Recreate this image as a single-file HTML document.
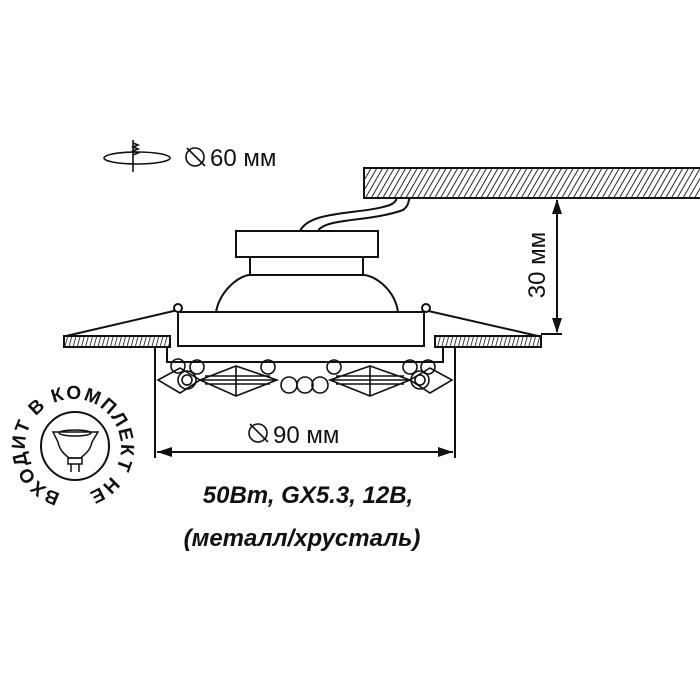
<!DOCTYPE html>
<html><head><meta charset="utf-8"><style>
html,body{margin:0;padding:0;background:#fff;width:700px;height:700px;overflow:hidden}
</style></head><body>
<svg width="700" height="700" viewBox="0 0 700 700" xmlns="http://www.w3.org/2000/svg" font-family="Liberation Sans, DejaVu Sans, sans-serif">
<defs>
<pattern id="h" width="5" height="5" patternUnits="userSpaceOnUse" patternTransform="rotate(30)">
<rect width="5" height="5" fill="#fff"/><line x1="0" y1="0" x2="0" y2="5" stroke="#111" stroke-width="1.8"/>
</pattern>
<pattern id="h2" width="4" height="4" patternUnits="userSpaceOnUse" patternTransform="rotate(15)">
<rect width="4" height="4" fill="#fff"/><line x1="0" y1="0" x2="0" y2="4" stroke="#111" stroke-width="1.6"/>
</pattern>
<path id="cp" d="M 60.6 493.4 A 48 48 0 1 1 85.4 493.4"/>
</defs>
<g stroke="#111" stroke-width="2" fill="none">
<rect x="364" y="168" width="340" height="30" fill="url(#h)"/>
<rect x="64" y="336" width="106" height="11" fill="url(#h2)"/>
<rect x="435" y="336" width="106" height="11" fill="url(#h2)"/>
<path d="M300 231 C 310 210, 360 215, 390 205 C 400 200, 394 198, 398 198"/>
<path d="M318 231 C 325 218, 370 222, 403 210 C 410 205, 408 199, 410 198"/>
<rect x="236" y="231" width="142" height="26" fill="#fff"/>
<rect x="250" y="257" width="113" height="18" fill="#fff"/>
<path d="M216 312 C 220 290, 240 275, 250 275 L 363 275 C 375 275, 395 290, 398 312" fill="#fff"/>
<rect x="178" y="312" width="246" height="34" fill="#fff"/>
<path d="M167 346 L167 362 L443 362 L443 346"/>
<path d="M178 310 L66 336 M424 310 L538 336"/>
<circle cx="178" cy="308" r="4" fill="#fff"/><circle cx="426" cy="308" r="4" fill="#fff"/>
<g stroke-width="1.6">
<path d="M158 380 L180 368 L200 380 L180 393 Z M200 380 L236 366 L277 380 L236 396 Z M200 380 L277 380 M236 366 L236 396 M205 376 L270 376 M205 384 L270 384"/>
<path d="M330 380 L370 366 L410 380 L370 396 Z M330 380 L410 380 M370 366 L370 396 M336 376 L404 376 M336 384 L404 384"/>
<path d="M410 380 L430 368 L452 380 L430 393 Z"/>
<circle cx="178" cy="366" r="7"/><circle cx="197" cy="367" r="7"/><circle cx="268" cy="367" r="7"/>
<circle cx="334" cy="367" r="7"/><circle cx="410" cy="367" r="7"/><circle cx="428" cy="367" r="7"/>
<circle cx="187" cy="380" r="9"/><circle cx="420" cy="380" r="9"/>
<circle cx="187" cy="380" r="5"/><circle cx="420" cy="380" r="5"/>
<circle cx="289" cy="385" r="8"/><circle cx="305" cy="385" r="8"/><circle cx="320" cy="385" r="8"/>
</g>
<path d="M155 346 L155 458 M455 346 L455 458 M157 452 L453 452"/>
<path d="M541 334 L562 334 M557 200 L557 332"/>
</g>
<g fill="#111">
<path d="M157 452 L172 447 L172 457 Z M453 452 L438 447 L438 457 Z"/>
<path d="M557 199 L552 214 L562 214 Z M557 333 L552 318 L562 318 Z"/>
</g>
<g stroke="#111" stroke-width="1.6" fill="none">
<ellipse cx="137" cy="158" rx="33" ry="6"/>
<path d="M133 140 L133 172 M133 143 l5 2 l-5 2 l5 2 l-5 2 l5 2 l-5 2"/>
<circle cx="195" cy="157" r="9"/><path d="M187 148 L205 166"/>
<circle cx="258" cy="433" r="9"/><path d="M250 424 L268 442"/>
</g>
<text x="210" y="166" font-size="24" fill="#111">60 мм</text>
<text x="273" y="443" font-size="24" fill="#111">90 мм</text>
<text transform="translate(545 265) rotate(-90)" text-anchor="middle" font-size="24" fill="#111">30 мм</text>
<text x="308" y="503" text-anchor="middle" font-size="24" font-weight="bold" font-style="italic" fill="#111">50Вт, GX5.3, 12В,</text>
<text x="302" y="546" text-anchor="middle" font-size="24" font-weight="bold" font-style="italic" fill="#111">(металл/хрусталь)</text>
<circle cx="75" cy="446" r="34" fill="none" stroke="#111" stroke-width="2"/>
<g stroke="#111" stroke-width="1.5" fill="none">
<path d="M53 432 L98 432 L92 442 C 90 452, 83 455, 81 458 L69 458 C 66 455, 60 452, 58 442 Z"/>
<ellipse cx="75" cy="433" rx="16" ry="3"/>
<rect x="68" y="458" width="14" height="6"/>
<path d="M71 464 L71 472 M79 464 L79 472"/>
</g>
<text font-size="19" font-weight="bold" fill="#111" textLength="272" lengthAdjust="spacing"><textPath href="#cp" textLength="272" lengthAdjust="spacing">ВХОДИТ В КОМПЛЕКТ НЕ</textPath></text>
</svg>
</body></html>
